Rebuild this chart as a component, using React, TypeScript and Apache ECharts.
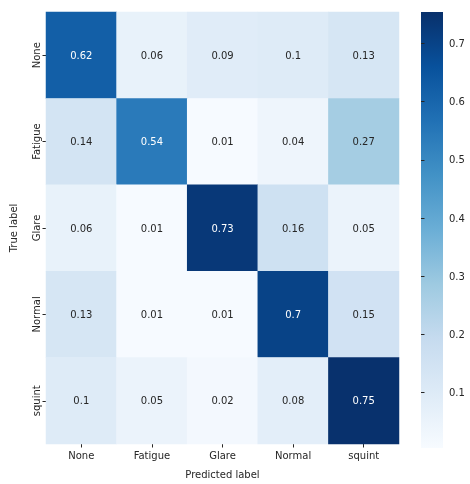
import React, { useEffect, useRef } from "react";
import * as echarts from "echarts";

const predictedLabels = ["None", "Fatigue", "Glare", "Normal", "squint"];
const trueLabels = ["None", "Fatigue", "Glare", "Normal", "squint"];
const rowNone = [0.62, 0.06, 0.09, 0.1, 0.13];
const rowFatigue = [0.14, 0.54, 0.01, 0.04, 0.27];
const rowGlare = [0.06, 0.01, 0.73, 0.16, 0.05];
const rowNormal = [0.13, 0.01, 0.01, 0.7, 0.15];
const rowSquint = [0.1, 0.05, 0.02, 0.08, 0.75];
const matrix = [rowNone, rowFatigue, rowGlare, rowNormal, rowSquint];
const colorbarTicks = [0.1, 0.2, 0.3, 0.4, 0.5, 0.6, 0.7];
const vMin = 0.005;
const vMax = 0.754;

const blues = ["#f7fbff", "#deebf7", "#c6dbef", "#9ecae1", "#6baed6", "#4292c6", "#2171b5", "#08519c", "#08306b"];
const FONT = "DejaVu Sans";

export default function App() {
  const ref = useRef<HTMLDivElement>(null);
  useEffect(() => {
    if (!ref.current) return;
    const chart = echarts.init(ref.current, null, { renderer: "svg" });
    const data: any[] = [];
    matrix.forEach((row, yi) =>
      row.forEach((v, xi) => {
        data.push({
          value: [xi, yi, v],
          label: { color: v > 0.4 ? "#ffffff" : "#262626" },
        });
      })
    );
    const cbLeft = 421;
    const cbTop = 12;
    const cbW = 22;
    const cbH = 436;
    chart.setOption({
      animation: false,
      textStyle: { fontFamily: FONT },
      grid: [
        { left: 41, top: 12, width: 358, height: 436 },
        { left: cbLeft, top: cbTop, width: cbW, height: cbH },
      ],
      xAxis: [
        {
          type: "category",
          gridIndex: 0,
          data: predictedLabels,
          name: "Predicted label",
          nameLocation: "middle",
          nameGap: 25,
          nameTextStyle: { fontSize: 10, color: "#262626", fontFamily: FONT },
          axisLine: { show: false },
          axisTick: { show: true, length: 3.5, alignWithLabel: true, lineStyle: { color: "#262626" } },
          axisLabel: { fontSize: 10, color: "#262626", margin: 6, fontFamily: FONT },
          splitLine: { show: false },
        },
        { type: "value", gridIndex: 1, show: false, min: 0, max: 1 },
      ],
      yAxis: [
        {
          type: "category",
          gridIndex: 0,
          data: trueLabels,
          inverse: true,
          name: "True label",
          nameLocation: "middle",
          nameGap: 28,
          nameRotate: 90,
          nameTextStyle: { fontSize: 10, color: "#262626", fontFamily: FONT },
          axisLine: { show: false },
          axisTick: { show: true, length: 3.5, alignWithLabel: true, lineStyle: { color: "#262626" } },
          axisLabel: { fontSize: 10, color: "#262626", margin: 5, rotate: 90, fontFamily: FONT },
          splitLine: { show: false },
        },
        {
          type: "value",
          gridIndex: 1,
          position: "right",
          min: vMin,
          max: vMax,
          axisLine: { show: false },
          splitLine: { show: false },
          axisTick: { show: true, length: 3.5, customValues: colorbarTicks, lineStyle: { color: "#262626" } },
          axisLabel: {
            show: true,
            fontSize: 10,
            color: "#262626",
            margin: 6,
            customValues: colorbarTicks,
            formatter: (v: number) => String(Math.round(v * 10) / 10),
            fontFamily: FONT,
          },
        },
      ],
      visualMap: {
        type: "continuous",
        show: false,
        min: vMin,
        max: vMax,
        seriesIndex: 0,
        inRange: { color: blues },
      },
      graphic: [
        {
          type: "rect",
          left: cbLeft,
          top: cbTop,
          shape: { width: cbW, height: cbH },
          z: -1,
          style: {
            fill: new echarts.graphic.LinearGradient(
              0,
              1,
              0,
              0,
              blues.map((c, i) => ({ offset: i / (blues.length - 1), color: c }))
            ),
          },
          silent: true,
        },
      ],
      series: [
        {
          type: "heatmap",
          xAxisIndex: 0,
          yAxisIndex: 0,
          data,
          itemStyle: { borderWidth: 0 },
          label: {
            show: true,
            fontSize: 10,
            fontFamily: FONT,
            formatter: (p: any) => String(p.value[2]),
          },
          emphasis: { disabled: true },
        },
      ],
    });
    return () => chart.dispose();
  }, []);
  return <div ref={ref} style={{ position: "fixed", left: 0, top: 0, width: 470, height: 484 }} />;
}
